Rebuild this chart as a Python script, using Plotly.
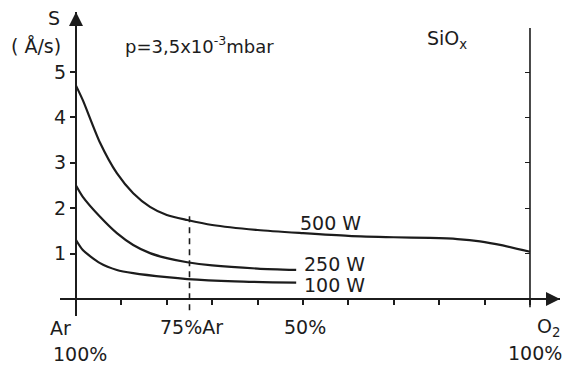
import plotly.graph_objects as go

# ---- data (x = O2 fraction in %, y = deposition rate S in Å/s) ----
x_500 = [0, 1.5, 5.3, 9, 12.6, 16.3, 20, 24.5, 30, 40, 50, 60, 70, 78, 84, 89, 94, 100]
y_500 = [4.7, 4.38, 3.44, 2.77, 2.33, 2.03, 1.85, 1.74, 1.63, 1.52, 1.45, 1.39, 1.36, 1.345, 1.32, 1.27, 1.18, 1.04]
x_250 = [0, 1.5, 5.3, 9, 12.6, 16.3, 20, 24.5, 30, 40, 48.5]
y_250 = [2.5, 2.25, 1.81, 1.45, 1.19, 1.01, 0.9, 0.81, 0.74, 0.67, 0.64]
x_100 = [0, 1.5, 5.3, 9, 12.6, 20, 24.5, 35, 48.5]
y_100 = [1.3, 1.08, 0.79, 0.64, 0.57, 0.48, 0.44, 0.39, 0.36]
series_labels = ["500 W", "250 W", "100 W"]
y_ticks = [1, 2, 3, 4, 5]
x_minor_ticks = list(range(0, 101, 10))
x_tick_labels = ["Ar<br>100%", "75%Ar", "50%", "O<sub>2</sub><br>100%"]
marker_o2 = 25

INK = "#1c1c1c"
FONT = "DejaVu Sans"

W, H = 575, 369
L, R, T, B = 60, 15, 12, 53
X_RANGE = [-3.524, 106.61]
Y_RANGE = [-0.3744, 6.3216]


def px(xp, yp):
    """pixel position -> paper coords"""
    return (xp - L) / (W - L - R), (H - B - yp) / (H - T - B)


fig = go.Figure()
for xs, ys in [(x_500, y_500), (x_250, y_250), (x_100, y_100)]:
    fig.add_trace(go.Scatter(x=xs, y=ys, mode="lines",
                             line=dict(color=INK, width=2.2, shape="spline", smoothing=0.7),
                             showlegend=False, hoverinfo="skip"))

# right vertical line at O2 100%
fig.add_shape(type="line", x0=100, x1=100, y0=-0.18, y1=5.97, xref="x", yref="y",
              line=dict(color=INK, width=1.6))
# dashed line at 75% Ar
fig.add_shape(type="line", x0=marker_o2, x1=marker_o2, y0=-0.25, y1=1.82, xref="x", yref="y",
              line=dict(color=INK, width=1.6, dash="6px,5px"))

ypos_x0 = -X_RANGE[0] / (X_RANGE[1] - X_RANGE[0])
xpos_y0 = -Y_RANGE[0] / (Y_RANGE[1] - Y_RANGE[0])
ypos_x100 = (100 - X_RANGE[0]) / (X_RANGE[1] - X_RANGE[0])

fig.update_layout(
    width=W, height=H, margin=dict(l=L, r=R, t=T, b=B),
    paper_bgcolor="white", plot_bgcolor="white",
    font=dict(family=FONT, color=INK, size=19),
    xaxis=dict(range=X_RANGE, anchor="free", position=xpos_y0, showline=True,
               linecolor=INK, linewidth=2, tickvals=x_minor_ticks, ticks="outside",
               ticklen=5, tickwidth=1.5, tickcolor=INK, showticklabels=False,
               showgrid=False, zeroline=False, fixedrange=True),
    yaxis=dict(range=Y_RANGE, anchor="free", position=ypos_x0, showline=True,
               linecolor=INK, linewidth=2, tickvals=y_ticks, ticks="outside",
               ticklen=5, tickwidth=1.5, tickcolor=INK, showgrid=False, zeroline=False,
               tickfont=dict(size=19, family=FONT, color=INK), fixedrange=True),
    yaxis2=dict(range=Y_RANGE, overlaying="y", anchor="free", position=ypos_x100,
                side="left", showline=False, tickvals=y_ticks, ticks="outside",
                ticklen=5, tickwidth=1.3, tickcolor=INK, showticklabels=False,
                showgrid=False, zeroline=False, fixedrange=True),
)
# dummy trace to activate yaxis2
fig.add_trace(go.Scatter(x=[None], y=[None], yaxis="y2", showlegend=False, hoverinfo="skip"))

ann = []
# axis arrows
ann.append(dict(x=0, y=1, xref="x", yref="paper", ax=0, ay=26, showarrow=True,
                arrowhead=2, arrowsize=1.4, arrowwidth=2, arrowcolor=INK, text=""))
ann.append(dict(x=1, y=0, xref="paper", yref="y", ax=-26, ay=0, showarrow=True,
                arrowhead=2, arrowsize=1.4, arrowwidth=2, arrowcolor=INK, text=""))


def text(t, xp, yp, size=19, xanchor="center"):
    x, y = px(xp, yp)
    ann.append(dict(x=x, y=y, xref="paper", yref="paper", text=t, showarrow=False,
                    xanchor=xanchor, yanchor="middle",
                    font=dict(size=size, family=FONT, color=INK)))


text("S", 54, 18)
text("( Å/s)", 36, 46)
text("p=3,5x10<sup>-3</sup>mbar", 199, 45, size=18)
text("SiO<sub>x</sub>", 447, 40, size=19)
# series labels
text(series_labels[0], 330, 223)
text(series_labels[1], 334, 264)
text(series_labels[2], 334, 285)
# x labels
text("Ar", 60, 328, xanchor="center")
text("100%", 80, 354)
text(x_tick_labels[1], 191, 327)
text(x_tick_labels[2], 305, 327)
text("O<sub>2</sub>", 548, 327)
text("100%", 535, 353)

fig.update_layout(annotations=ann)
fig.write_html("out.html")
